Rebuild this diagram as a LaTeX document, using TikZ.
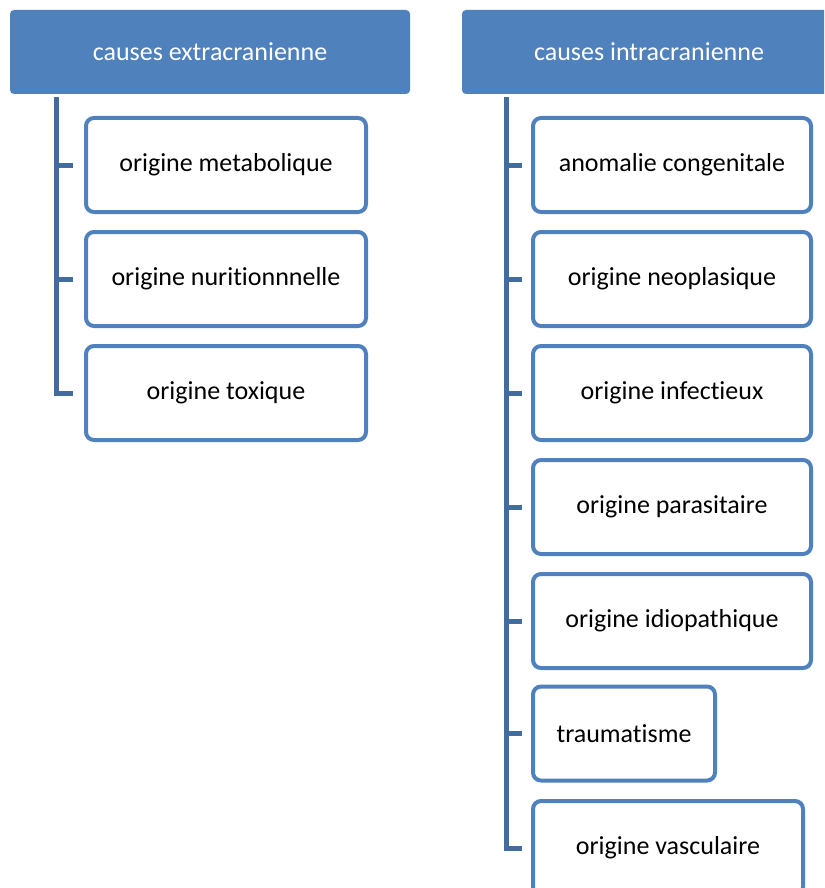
\documentclass[tikz,border=0pt]{standalone}
\usepackage{fontspec}
\setmainfont{Carlito}[Ligatures={NoCommon,NoContextual}]
\definecolor{accent}{HTML}{4F81BD}
\definecolor{connc}{HTML}{426B9F}
\begin{document}
\begin{tikzpicture}[x=1pt,y=-1pt,
  hdr/.style={rectangle, rounded corners=4pt, fill=accent, draw=none, text=white,
    font=\fontsize{26}{30}\selectfont, minimum height=84pt, inner sep=0pt},
  item/.style={rectangle, rounded corners=8pt, draw=accent, line width=4pt, fill=white,
    font=\fontsize{26}{30}\selectfont, minimum height=94pt, inner sep=0pt},
  conn/.style={draw=connc, line width=5pt}]
\useasboundingbox (0,0) rectangle (824,888);
\clip (0,0) rectangle (824,888);
% headers
\node[hdr, minimum width=400pt] (hL) at (210,52) {causes extracranienne};
\node[hdr, minimum width=374pt] (hR) at (649,52) {causes intracranienne};
% left items
\node[item, minimum width=280pt] (l1) at (226,165) {origine metabolique};
\node[item, minimum width=280pt] (l2) at (226,279) {origine nuritionnnelle};
\node[item, minimum width=280pt] (l3) at (226,393) {origine toxique};
% right items
\node[item, minimum width=278pt] (r1) at (672,165) {anomalie congenitale};
\node[item, minimum width=278pt] (r2) at (672,279) {origine neoplasique};
\node[item, minimum width=278pt] (r3) at (672,393) {origine infectieux};
\node[item, minimum width=278pt] (r4) at (672,507) {origine parasitaire};
\node[item, minimum width=278pt] (r5) at (672,621) {origine idiopathique};
\node[item, minimum width=182pt] (r6) at (624,733.5) {traumatisme};
\node[item, minimum width=270pt] (r7) at (668,848) {origine vasculaire};
% connectors
\coordinate (tL) at ([xshift=47pt,yshift=-3pt]hL.south west);
\coordinate (tR) at ([xshift=44.5pt,yshift=-3pt]hR.south west);
\foreach \n in {l1,l2,l3} {
  \draw[conn] (tL) |- ([xshift=-11pt]\n.west);
}
\foreach \n in {r1,r2,r3,r4,r5,r6,r7} {
  \draw[conn] (tR) |- ([xshift=-9pt]\n.west);
}
\end{tikzpicture}
\end{document}
